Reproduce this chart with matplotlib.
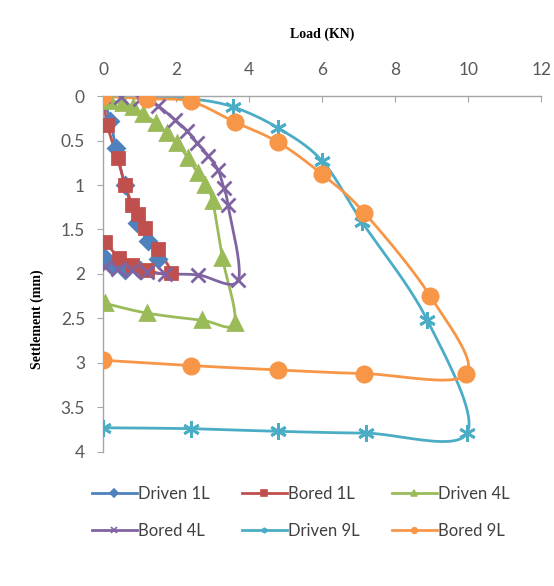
import numpy as np
import matplotlib.pyplot as plt

# Load (KN) vs settlement (mm)
driven1_load = [0, 0.2, 0.35, 0.6, 0.93, 1.23, 1.5, 1.0, 0.6, 0.25, 0]
driven1_sett = [0, 0.28, 0.58, 1.0, 1.43, 1.63, 1.83, 1.95, 1.95, 1.9, 1.8]

bored1_load = [0, 0.12, 0.4, 0.6, 0.8, 0.95, 1.15, 1.5, 1.85, 1.2, 0.8, 0.45, 0.05]
bored1_sett = [0, 0.33, 0.7, 1.0, 1.22, 1.33, 1.48, 1.72, 1.99, 1.96, 1.9, 1.82, 1.64]

driven4_load = [0, 0.2, 0.55, 0.82, 1.1, 1.45, 1.75, 2.03, 2.33, 2.6, 2.8, 3.0, 3.27, 3.6, 2.7, 1.2, 0.05]
driven4_sett = [0, 0.05, 0.08, 0.12, 0.2, 0.3, 0.42, 0.53, 0.7, 0.87, 1.0, 1.18, 1.82, 2.55, 2.52, 2.44, 2.33]

bored4_load = [0, 0.5, 1.0, 1.5, 1.97, 2.3, 2.58, 2.88, 3.15, 3.3, 3.42, 3.7, 2.6, 1.7, 1.2, 0.8, 0.4, 0.05]
bored4_sett = [0, 0.01, 0.03, 0.11, 0.27, 0.39, 0.53, 0.67, 0.83, 1.03, 1.22, 2.07, 2.01, 2.0, 1.98, 1.96, 1.94, 1.92]

driven9_load = [0, 1.2, 2.4, 3.55, 4.8, 6.0, 7.1, 8.88, 9.97, 7.2, 4.8, 2.4, 0]
driven9_sett = [0, 0.01, 0.03, 0.12, 0.36, 0.73, 1.42, 2.52, 3.79, 3.79, 3.77, 3.74, 3.73]

bored9_load = [0, 1.2, 2.4, 3.6, 4.8, 6.0, 7.15, 8.96, 9.95, 7.15, 4.8, 2.4, 0]
bored9_sett = [0, 0.03, 0.06, 0.29, 0.52, 0.88, 1.31, 2.25, 3.13, 3.12, 3.08, 3.03, 2.97]

x_ticks = [0, 2, 4, 6, 8, 10, 12]
y_ticks = [0, 0.5, 1, 1.5, 2, 2.5, 3, 3.5, 4]
y_tick_labels = ['0', '0.5', '1', '1.5', '2', '2.5', '3', '3.5', '4']


def smooth(x, y, n=24):
    # Excel-style smoothed line (Catmull-Rom through the points)
    p = np.column_stack([x, y]).astype(float)
    out = [p[0]]
    for i in range(len(p) - 1):
        p0 = p[i - 1] if i > 0 else p[i]
        p1, p2 = p[i], p[i + 1]
        p3 = p[i + 2] if i + 2 < len(p) else p[i + 1]
        c1 = p1 + (p2 - p0) / 6
        c2 = p2 - (p3 - p1) / 6
        t = np.linspace(0, 1, n)[1:, None]
        seg = (1 - t) ** 3 * p1 + 3 * (1 - t) ** 2 * t * c1 + 3 * (1 - t) * t ** 2 * c2 + t ** 3 * p2
        out.extend(seg)
    out = np.array(out)
    return out[:, 0], out[:, 1]


series = [
    ('Driven 1L', driven1_load, driven1_sett, '#4F81BD', 'D', 8),
    ('Bored 1L', bored1_load, bored1_sett, '#C0504D', 's', 9),
    ('Driven 4L', driven4_load, driven4_sett, '#9BBB59', '^', 10),
    ('Bored 4L', bored4_load, bored4_sett, '#8064A2', 'x', 10),
    ('Driven 9L', driven9_load, driven9_sett, '#4BACC6', (6, 2, 0), 12),
    ('Bored 9L', bored9_load, bored9_sett, '#F79646', 'o', 11),
]

fig = plt.figure(figsize=(5.54, 5.86), dpi=100)
ax = fig.add_axes([0.186, 0.229, 0.791, 0.607])

handles = []
for name, xs, ys, col, mk, ms in series:
    sx, sy = smooth(xs, ys)
    ax.plot(sx, sy, color=col, lw=2, zorder=2)
    ax.plot(xs, ys, ls='none', marker=mk, color=col, ms=ms, mew=2, zorder=3)
    h, = ax.plot([], [], color=col, lw=2, marker=mk, ms=4, mew=1.2)
    handles.append(h)

ax.set_xlim(0, 12)
ax.set_ylim(4, 0)
ax.xaxis.tick_top()
ax.set_xticks(x_ticks)
ax.set_yticks(y_ticks)
ax.set_yticklabels(y_tick_labels)
for s in ['right', 'bottom']:
    ax.spines[s].set_visible(False)
for s in ['left', 'top']:
    ax.spines[s].set_color('#A6A6A6')
    ax.spines[s].set_linewidth(1)
ax.tick_params(axis='x', direction='in', length=4, color='#A6A6A6', labelsize=12.5,
               labelcolor='#595959', pad=13)
ax.tick_params(axis='y', direction='out', length=4, color='#A6A6A6', labelsize=12.5,
               labelcolor='#595959', pad=9)
for lab in ax.get_xticklabels() + ax.get_yticklabels():
    lab.set_family('Lato')

fig.text(0.581, 0.942, 'Load (KN)', ha='center', va='center', fontsize=10,
         fontweight='bold', family='Liberation Serif')
fig.text(0.067, 0.455, 'Settlement (mm)', ha='center', va='center', rotation=90,
         fontsize=10, fontweight='bold', family='Liberation Serif')

# legend fills column-wise, so reorder to get the row order of the original
order = [0, 3, 1, 4, 2, 5]
fig.legend([handles[i] for i in order], [series[i][0] for i in order], loc='center', ncol=3,
           bbox_to_anchor=(0.543, 0.126), frameon=False, handlelength=2.7,
           columnspacing=1.9, handletextpad=0.1, labelspacing=1.25,
           prop={'family': 'Lato', 'size': 12}, labelcolor='#404040')

fig.savefig('out.png', dpi=100)
